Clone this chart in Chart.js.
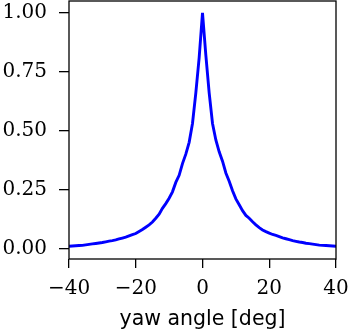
<!DOCTYPE html>
<html><head><meta charset="utf-8">
<script src="https://cdn.jsdelivr.net/npm/chart.js@4"></script>
<style>html,body{margin:0;padding:0;background:#fff;overflow:hidden}</style>
</head><body>
<canvas id="c" width="350" height="331"></canvas>
<script>
const angles = [-40,-39,-38,-37,-36,-35,-34,-33,-32,-31,-30,-29,-28,-27,-26,-25,-24,-23,-22,-21,-20,-19,-18,-17,-16,-15,-14,-13,-12,-11,-10,-9,-8,-7,-6,-5,-4,-3,-2,-1,0,1,2,3,4,5,6,7,8,9,10,11,12,13,14,15,16,17,18,19,20,21,22,23,24,25,26,27,28,29,30,31,32,33,34,35,36,37,38,39,40];
const response = [0.009,0.010,0.011,0.012,0.013,0.015,0.017,0.019,0.021,0.023,0.025,0.028,0.031,0.033,0.036,0.040,0.044,0.048,0.053,0.058,0.063,0.072,0.080,0.090,0.100,0.112,0.128,0.145,0.170,0.190,0.213,0.240,0.280,0.310,0.360,0.400,0.450,0.530,0.660,0.810,1.000,0.820,0.660,0.530,0.460,0.410,0.370,0.320,0.285,0.245,0.210,0.185,0.160,0.140,0.128,0.113,0.100,0.088,0.078,0.071,0.065,0.059,0.055,0.050,0.045,0.041,0.037,0.033,0.030,0.027,0.025,0.022,0.020,0.018,0.016,0.014,0.013,0.012,0.011,0.010,0.009];
const xTickValues = [-40,-20,0,20,40];
const yTickValues = [0,0.25,0.5,0.75,1.0];
const xLabel = 'yaw angle [deg]';

const frame = {
  id:'frame',
  afterDatasetsDraw(chart){
    const {ctx, chartArea:a} = chart;
    ctx.save();
    ctx.strokeStyle = '#000';
    ctx.lineWidth = 1.3;
    ctx.strokeRect(a.left, a.top, a.right - a.left, a.bottom - a.top);
    ctx.restore();
  }
};
function noPad(s){ s.paddingTop = 0; s.paddingBottom = 0; s.paddingLeft = 0; s.paddingRight = 0; }

const tickFont = {family:'DejaVu Serif', size:20};
new Chart(document.getElementById('c').getContext('2d'), {
  type:'line',
  data:{datasets:[{
    data: angles.map((a,i)=>({x:a, y:response[i]})),
    borderColor:'#0000ff', borderWidth:2.9, pointRadius:0, tension:0, fill:false
  }]},
  options:{
    responsive:false, animation:false, devicePixelRatio:1,
    layout:{padding:{top:1,right:14,bottom:0,left:0}},
    plugins:{legend:{display:false}, tooltip:{enabled:false}},
    scales:{
      x:{
        type:'linear', min:-40, max:40,
        afterBuildTicks:s=>{ s.ticks = xTickValues.map(v=>({value:v})); },
        ticks:{callback:v=> v<0 ? '\u2212'+Math.abs(v) : String(v), font:tickFont, color:'#000', padding:9, maxRotation:0, autoSkip:false},
        grid:{drawOnChartArea:false, drawTicks:true, tickLength:9, color:'#000', lineWidth:1.3},
        border:{display:false},
        title:{display:true, text:xLabel, color:'#000', font:{family:'DejaVu Sans', size:20.5, lineHeight:1}, padding:{top:0,bottom:1}},
        afterFit:s=>{ s.height = 72; noPad(s); }
      },
      y:{
        type:'linear', min:-0.045, max:1.05,
        afterBuildTicks:s=>{ s.ticks = yTickValues.map(v=>({value:v})); },
        ticks:{callback:v=>Number(v).toFixed(2), font:tickFont, color:'#000', padding:12, autoSkip:false},
        grid:{drawOnChartArea:false, drawTicks:true, tickLength:10, color:'#000', lineWidth:1.3},
        border:{display:false},
        afterFit:s=>{ s.width = 69; noPad(s); }
      }
    }
  },
  plugins:[frame]
});
</script>
</body></html>
